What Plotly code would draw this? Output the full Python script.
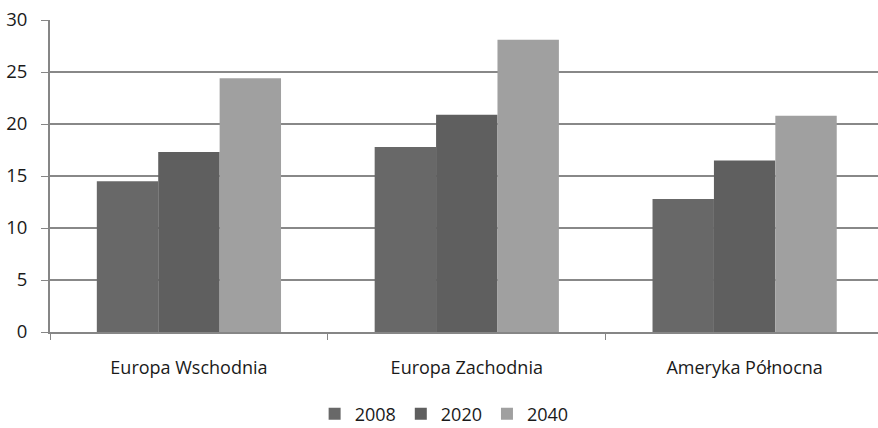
import plotly.graph_objects as go

regions = ["Europa Wschodnia", "Europa Zachodnia", "Ameryka Północna"]
years = ["2008", "2020", "2040"]
values_2008 = [14.5, 17.8, 12.8]
values_2020 = [17.3, 20.9, 16.5]
values_2040 = [24.4, 28.1, 20.8]
colors = ["#686868", "#5f5f5f", "#a0a0a0"]

series = [values_2008, values_2020, values_2040]

fig = go.Figure()
for name, vals, col in zip(years, series, colors):
    fig.add_trace(go.Bar(
        x=regions, y=vals, name=name,
        marker=dict(color=col, line=dict(width=0)),
    ))

font_family = "Open Sans, Liberation Sans, sans-serif"

fig.update_layout(
    width=878, height=428,
    margin=dict(l=50, r=0, t=20, b=96),
    paper_bgcolor="white", plot_bgcolor="white",
    barmode="group", bargap=0.337, bargroupgap=0,
    font=dict(family=font_family, size=18.5, color="#1a1a1a"),
    showlegend=True,
    legend=dict(
        orientation="h", x=0.476, xanchor="center",
        yref="container", y=14 / 428, yanchor="middle",
        font=dict(size=18), itemwidth=30, traceorder="normal",
    ),
    xaxis=dict(
        range=[-0.5, 2.48],
        showline=True, linecolor="#868686", linewidth=2,
        ticks="outside", tickson="boundaries", ticklen=6,
        tickcolor="#868686", tickwidth=1,
        showgrid=False, ticklabelstandoff=18,
        tickfont=dict(size=18),
    ),
    yaxis=dict(
        range=[0, 30], dtick=5,
        showline=True, linecolor="#868686", linewidth=2,
        ticks="outside", ticklen=7, tickcolor="#868686", tickwidth=1,
        showgrid=True, gridcolor="#888888", gridwidth=1.5,
        zeroline=False, ticklabelstandoff=10,
    ),
)

fig.write_html("out.html")
